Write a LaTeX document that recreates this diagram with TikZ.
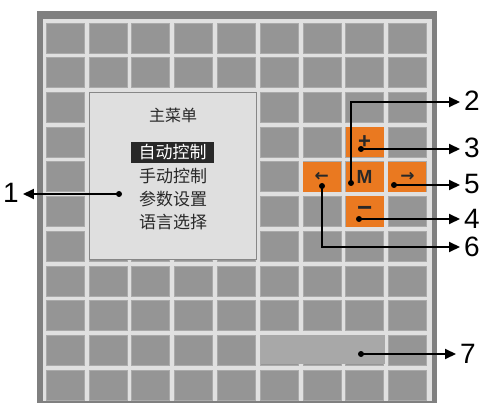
\documentclass[tikz,border=0pt]{standalone}
\usepackage{fontspec}
\setmainfont{Liberation Sans}
\newfontfamily\cjk{Noto Sans CJK SC}
\newfontfamily\dejavu{DejaVu Sans}
\usetikzlibrary{arrows.meta}
\definecolor{framegray}{RGB}{128,128,128}
\definecolor{bglight}{RGB}{224,224,224}
\definecolor{cellgray}{RGB}{149,149,149}
\definecolor{celledge}{RGB}{170,170,170}
\definecolor{panelfill}{RGB}{223,223,223}
\definecolor{paneledge}{RGB}{135,135,135}
\definecolor{keyorange}{RGB}{234,121,32}
\definecolor{barfill}{RGB}{168,168,168}
\definecolor{inkdark}{RGB}{40,40,40}
\tikzset{
  cell/.style={draw=celledge, line width=0.6pt, fill=cellgray, minimum width=38pt, minimum height=30pt, inner sep=0pt, outer sep=0pt},
  keycell/.style={fill=keyorange, minimum width=38pt, minimum height=30pt, inner sep=0pt, text=inkdark, font=\bfseries\fontsize{19}{19}\selectfont},
  panel/.style={draw=paneledge, line width=0.8pt, fill=panelfill, minimum width=167pt, minimum height=167pt, inner sep=0pt},
  menuitem/.style={font=\cjk\fontsize{17}{17}\selectfont, text=inkdark, inner sep=0pt},
  lab/.style={font=\fontsize{28}{28}\selectfont, text=black, inner xsep=4pt, inner ysep=0pt, text height=18pt, text depth=0pt},
  conn/.style={line width=1.8pt, black},
  arr/.style={conn, -{Triangle[length=11pt,width=10pt]}}
}
\begin{document}
\begin{tikzpicture}[x=1pt,y=-1pt]
\useasboundingbox (0,0) rectangle (481,403);
% frame
\fill[framegray] (37,11) rectangle (437,406);
\fill[bglight] (43,19) rectangle (432,401);
% grid of cells
\foreach \i in {0,...,8} {
  \foreach \j in {0,...,10} {
    \node[cell] (c-\i-\j) at ({65+42.8*\i},{38+34.7*\j}) {};
  }
}
% menu panel
\node[panel] (menu) at (172.5,175.5) {};
\node[menuitem, font=\cjk\fontsize{16}{16}\selectfont] (title) at (173,115) {主菜单};
\node[fill=inkdark, text=white, font=\cjk\fontsize{17}{17}\selectfont, minimum width=83pt, minimum height=21pt, inner sep=0pt] (m1) at (172.5,152.5) {自动控制};
\node[menuitem] (m2) at (173,176) {手动控制};
\node[menuitem] (m3) at (173,199) {参数设置};
\node[menuitem] (m4) at (173,222) {语言选择};
% status bar
\node[fill=barfill, minimum width=124pt, minimum height=29pt, inner sep=0pt] (bar) at (323,349.5) {};
% keys
\node[keycell, font=\bfseries\fontsize{22}{22}\selectfont] (kplus) at (c-7-3) {+};
\node[keycell] (kM) at (c-7-4) {M};
\node[keycell, font=\dejavu\bfseries\fontsize{17}{17}\selectfont] (kleft) at (c-6-4) {←};
\node[keycell, font=\dejavu\bfseries\fontsize{17}{17}\selectfont] (kright) at (c-8-4) {→};
\node[keycell, font=\bfseries\fontsize{26}{26}\selectfont] (kminus) at (c-7-5) {−};
% dots
\coordinate (d1) at (119,194);
\coordinate (d2) at (351,183);
\coordinate (d3) at (361,149);
\coordinate (d4) at (359,219);
\coordinate (d5) at (394,185);
\coordinate (d6) at (322,186);
\coordinate (d7) at (361,354);
% labels
\node[lab] (l1) at (11,194) {1};
\node[lab] (l2) at (472,102) {2};
\node[lab] (l3) at (472,149) {3};
\node[lab] (l4) at (472,219) {4};
\node[lab] (l5) at (472,185) {5};
\node[lab] (l6) at (472,247) {6};
\node[lab] (l7) at (468,354) {7};
% connectors
\draw[arr] (d1) -- (d1 -| l1.east);
\draw[arr] (d2) |- (l2.west);
\draw[arr] (d3) -- (d3 -| l3.west);
\draw[arr] (d4) -- (d4 -| l4.west);
\draw[arr] (d5) -- (d5 -| l5.west);
\draw[arr] (d6) |- (l6.west);
\draw[arr] (d7) -- (d7 -| l7.west);
\foreach \d in {d1,d2,d3,d4,d5,d6,d7} \fill[black] (\d) circle[radius=3pt];
\end{tikzpicture}
\end{document}
